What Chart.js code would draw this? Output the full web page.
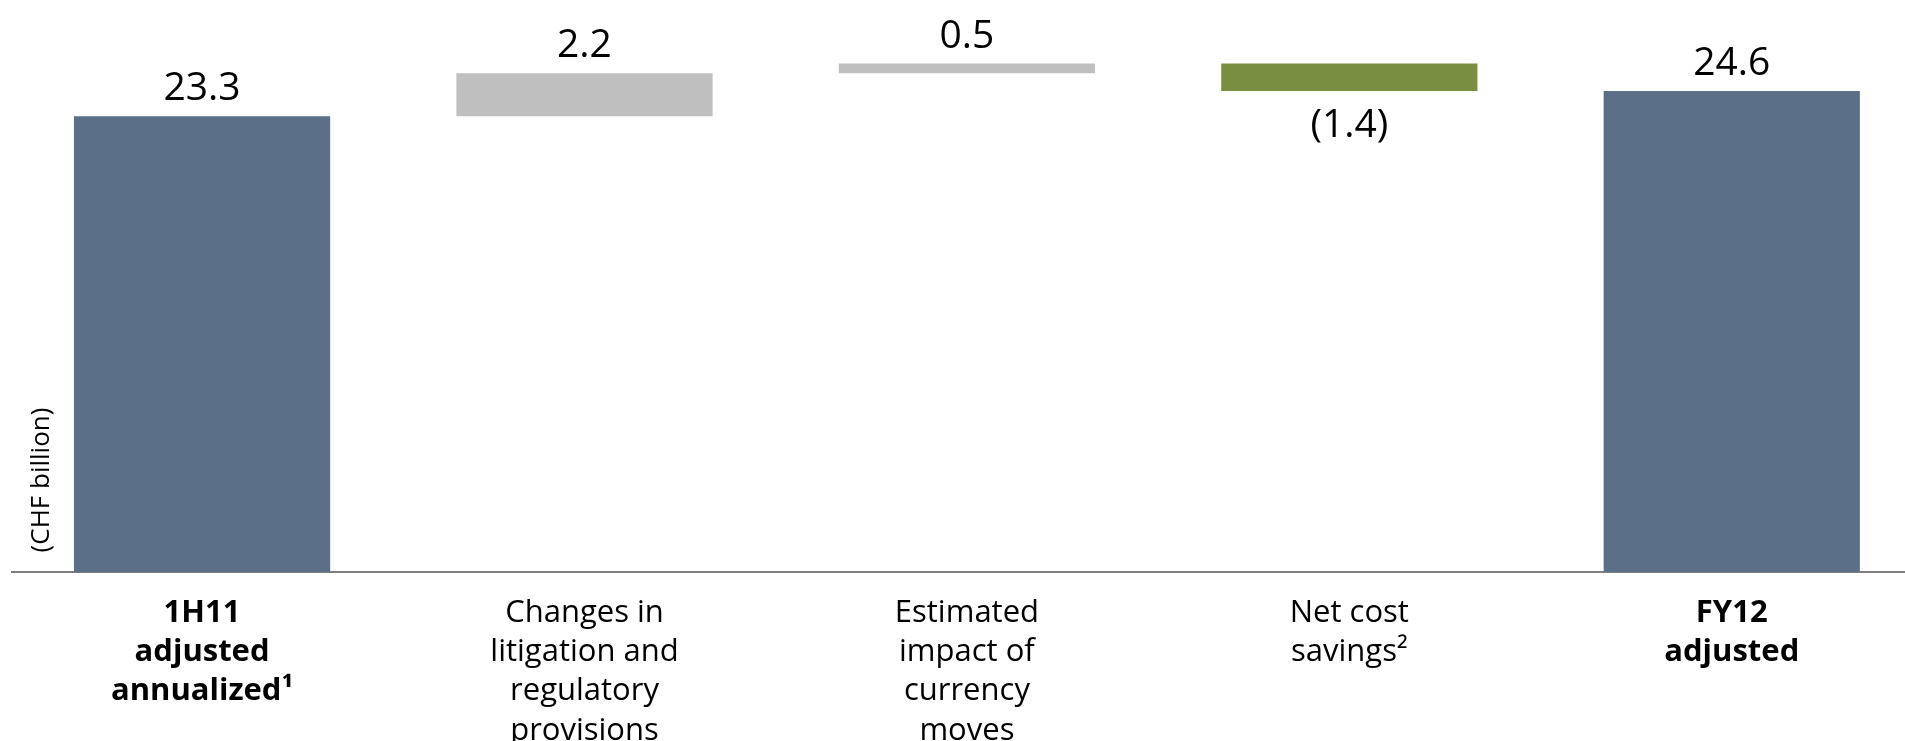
<!DOCTYPE html>
<html lang="en">
  <head>
    <meta charset="UTF-8" />
    <title>Adjusted operating expenses bridge</title>
    <script src="https://cdn.jsdelivr.net/npm/chart.js@4.4.1/dist/chart.umd.min.js"></script>
    <style>
      html, body { margin: 0; padding: 0; background: #ffffff; overflow: hidden; }
      #wrap { width: 1905px; height: 741px; position: relative; }
    </style>
  </head>
  <body>
    <div id="wrap"><canvas id="bridge"></canvas></div>

    <script>
      // categories (multi-line x labels) and the bridge steps in CHF billion
      const categories = [
        ['1H11', 'adjusted', 'annualized\u00B9'],
        ['Changes in', 'litigation and', 'regulatory', 'provisions'],
        ['Estimated', 'impact of', 'currency', 'moves'],
        ['Net cost', 'savings\u00B2'],
        ['FY12', 'adjusted'],
      ];
      const values = [23.3, 2.2, 0.5, -1.4, 24.6];
      const isTotal = [true, false, false, false, true];
      const boldLabels = [0, 4];
      const yTitle = '(CHF billion)';

      const COLORS = {
        total: '#5b6f89',
        up: '#bfbfbf',
        down: '#7a8e41',
        axis: '#7f7f7f',
        text: '#000000',
      };
      const FONT = "'Open Sans', 'Noto Sans', sans-serif";

      // running totals -> floating bars
      function buildRanges() {
        let running = 0;
        return values.map((v, i) => {
          if (isTotal[i]) {
            running = v;
            return { x: i, y: [0, v] };
          }
          const start = running;
          running = +(running + v).toFixed(2);
          return { x: i, y: [start, running] };
        });
      }

      function barColor(i) {
        if (isTotal[i]) return COLORS.total;
        return values[i] < 0 ? COLORS.down : COLORS.up;
      }

      function fmt(v) {
        return v < 0 ? '(' + Math.abs(v).toFixed(1) + ')' : v.toFixed(1);
      }

      const labelPlugin = {
        id: 'bridgeLabels',
        afterDatasetsDraw(chart) {
          const ctx = chart.ctx;
          const meta = chart.getDatasetMeta(0);
          ctx.save();
          ctx.fillStyle = COLORS.text;
          ctx.textAlign = 'center';
          ctx.textBaseline = 'alphabetic';
          ctx.font = '39px ' + FONT;
          meta.data.forEach((bar, i) => {
            const props = bar.getProps(['x', 'y', 'base'], true);
            const top = Math.min(props.y, props.base);
            const bottom = Math.max(props.y, props.base);
            if (values[i] < 0) {
              ctx.fillText(fmt(values[i]), props.x, bottom + 46);
            } else {
              ctx.fillText(fmt(values[i]), props.x, top - 16);
            }
          });

          // rotated unit note, sitting low on the left
          ctx.font = '26px ' + FONT;
          ctx.translate(42, 480);
          ctx.rotate(-Math.PI / 2);
          ctx.textBaseline = 'middle';
          ctx.fillText(yTitle, 0, 0);
          ctx.restore();
        },
      };

      const chart = new Chart(document.getElementById('bridge'), {
        type: 'bar',
        data: {
          datasets: [
            {
              data: buildRanges(),
              backgroundColor: values.map((v, i) => barColor(i)),
              borderWidth: 0,
              categoryPercentage: 1,
              barPercentage: 0.67,
            },
          ],
        },
        options: {
          responsive: true,
          maintainAspectRatio: false,
          animation: false,
          layout: { padding: { left: 12, right: 0, top: 0, bottom: 0 } },
          plugins: {
            legend: { display: false },
            tooltip: { enabled: false },
          },
          scales: {
            x: {
              type: 'linear',
              offset: false,
              min: -0.497,
              max: 4.453,
              grid: { display: false },
              border: { display: true, color: COLORS.axis, width: 2 },
              afterBuildTicks(scale) {
                scale.ticks = categories.map((c, i) => ({ value: i }));
              },
              afterFit(scale) {
                scale.height = 169;
              },
              ticks: {
                autoSkip: false,
                maxRotation: 0,
                minRotation: 0,
                padding: 14,
                color: COLORS.text,
                callback: function (value) {
                  return categories[value] || '';
                },
                font: function (ctx) {
                  return {
                    family: FONT,
                    size: 31,
                    weight: boldLabels.includes(ctx.index) ? 'bold' : 'normal',
                    lineHeight: 1.26,
                  };
                },
              },
            },
            y: {
              display: false,
              min: 0,
              max: 29.25,
            },
          },
        },
        plugins: [labelPlugin],
      });
    </script>
  </body>
</html>
